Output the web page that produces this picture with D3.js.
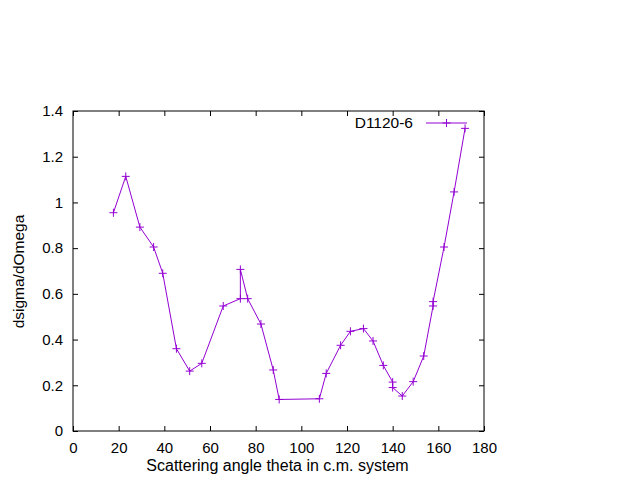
<!DOCTYPE html>
<html><head><meta charset="utf-8">
<script src="https://cdn.jsdelivr.net/npm/d3@7"></script>
<style>body{margin:0;background:#fff;}svg{display:block;font-family:"Liberation Sans",Arial,sans-serif;}</style>
</head><body>
<svg id="c" width="640" height="480"></svg>
<script>
const theta = [17.7, 23.1, 29.3, 35.3, 39.3, 45.3, 51.1, 56.4, 65.8, 73.3, 73.3, 76.5, 82.3, 87.7, 90.3,
  107.9, 110.9, 117.2, 121.5, 127.2, 131.4, 135.9, 140.0, 140.0, 144.2, 149.0, 153.6, 157.7, 157.7, 162.5, 166.9, 171.7];
const dsigma = [0.955, 1.114, 0.892, 0.805, 0.690, 0.360, 0.262, 0.296, 0.547, 0.579, 0.707, 0.579, 0.468, 0.267, 0.138,
  0.141, 0.252, 0.375, 0.436, 0.448, 0.394, 0.287, 0.214, 0.190, 0.153, 0.216, 0.328, 0.547, 0.566, 0.805, 1.046, 1.324];
const xTicks = [0, 20, 40, 60, 80, 100, 120, 140, 160, 180];
const yTicks = [0, 0.2, 0.4, 0.6, 0.8, 1, 1.2, 1.4];
const seriesName = "D1120-6";
const xTitle = "Scattering angle theta in c.m. system";
const yTitle = "dsigma/dOmega";

const color = "#9400d3";
const L = 73, R = 484, T = 111, B = 431;
const svg = d3.select("#c");
const x = d3.scaleLinear().domain([0, 180]).range([L, R]);
const y = d3.scaleLinear().domain([0, 1.4]).range([B, T]);
const tl = 5;

const fs = 15;
svg.append("g").attr("transform", `translate(0,${B})`)
  .call(d3.axisBottom(x).tickValues(xTicks).tickSize(-tl).tickPadding(tl + 6).tickFormat(d3.format("d")))
  .call(g => { g.select(".domain").remove(); g.selectAll("text").attr("font-size", fs).attr("fill","#000").attr("font-family","Liberation Sans, Arial, sans-serif"); g.selectAll("line").attr("stroke","#000"); });
svg.append("g").attr("transform", `translate(0,${T})`)
  .call(d3.axisTop(x).tickValues(xTicks).tickSize(-tl).tickFormat(""))
  .call(g => { g.select(".domain").remove(); g.selectAll("line").attr("stroke","#000"); });
svg.append("g").attr("transform", `translate(${L},0)`)
  .call(d3.axisLeft(y).tickValues(yTicks).tickSize(-tl).tickPadding(tl + 5).tickFormat(d => d3.format("~g")(d)))
  .call(g => { g.select(".domain").remove(); g.selectAll("text").attr("font-size", fs).attr("fill","#000").attr("font-family","Liberation Sans, Arial, sans-serif"); g.selectAll("line").attr("stroke","#000"); });
svg.append("g").attr("transform", `translate(${R},0)`)
  .call(d3.axisRight(y).tickValues(yTicks).tickSize(-tl).tickFormat(""))
  .call(g => { g.select(".domain").remove(); g.selectAll("line").attr("stroke","#000"); });

svg.append("rect").attr("x", L).attr("y", T).attr("width", R - L).attr("height", B - T)
  .attr("fill", "none").attr("stroke", "#000").attr("stroke-width", 1);

svg.append("text").attr("x", 277.5).attr("y", 471).attr("text-anchor", "middle")
  .attr("font-size", 16).text(xTitle);
svg.append("text").attr("transform", `translate(24,${271.5}) rotate(-90)`)
  .attr("text-anchor", "middle").attr("font-size", 15.5).text(yTitle);

const pts = theta.map((t, i) => [t, dsigma[i]]);
svg.append("path").datum(pts)
  .attr("d", d3.line().x(d => x(d[0])).y(d => y(d[1])))
  .attr("fill", "none").attr("stroke", color).attr("stroke-width", 1);
const ps = 4;
const plus = (g, cx, cy) => {
  g.append("path").attr("d", `M${cx - ps},${cy}H${cx + ps}M${cx},${cy - ps}V${cy + ps}`)
    .attr("stroke", color).attr("stroke-width", 1).attr("fill", "none");
};
const mg = svg.append("g");
pts.forEach(d => plus(mg, x(d[0]), y(d[1])));

svg.append("text").attr("x", 413).attr("y", 128).attr("text-anchor", "end").attr("font-size", 15.5).text(seriesName);
svg.append("line").attr("x1", 426).attr("x2", 467).attr("y1", 123).attr("y2", 123).attr("stroke", color);
plus(svg, 446.5, 123);
</script>
</body></html>
